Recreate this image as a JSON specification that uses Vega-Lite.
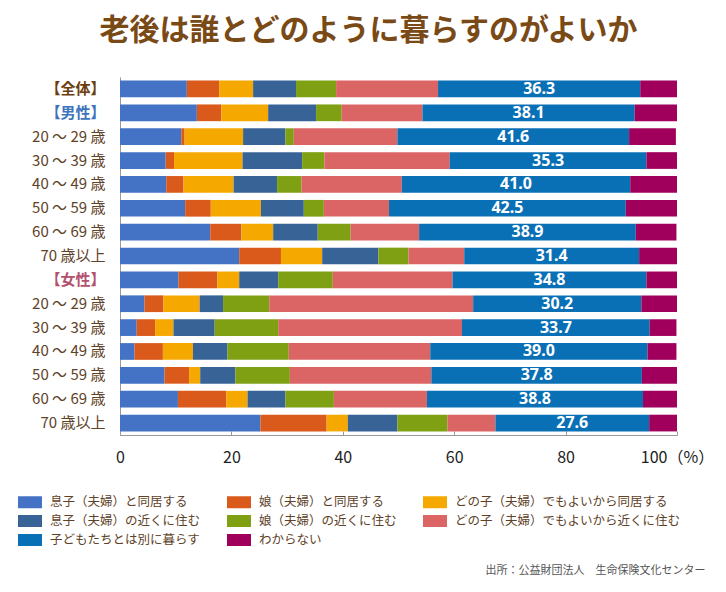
{
  "$schema": "https://vega.github.io/schema/vega-lite/v6.json",
  "width": 557,
  "height": 358,
  "autosize": {"type": "none"},
  "padding": {"left": 120, "top": 77, "right": 49, "bottom": 157},
  "background": "white",
  "config": {"view": {"stroke": null}, "font": "Noto Sans CJK JP"},
  "title": {
    "text": "老後は誰とどのように暮らすのがよいか",
    "font": "Noto Sans CJK JP",
    "fontSize": 30,
    "fontWeight": "bold",
    "color": "#7A4A16",
    "anchor": "middle",
    "dx": -30,
    "offset": 31
  },
  "datasets": {
    "rows": [
      {"row": "01|【全体】", "息子（夫婦）と同居する": 12.0, "娘（夫婦）と同居する": 5.8, "どの子（夫婦）でもよいから同居する": 6.1, "息子（夫婦）の近くに住む": 7.7, "娘（夫婦）の近くに住む": 7.2, "どの子（夫婦）でもよいから近くに住む": 18.3, "子どもたちとは別に暮らす": 36.3, "わからない": 6.6},
      {"row": "02|【男性】", "息子（夫婦）と同居する": 13.8, "娘（夫婦）と同居する": 4.4, "どの子（夫婦）でもよいから同居する": 8.4, "息子（夫婦）の近くに住む": 8.6, "娘（夫婦）の近くに住む": 4.6, "どの子（夫婦）でもよいから近くに住む": 14.5, "子どもたちとは別に暮らす": 38.1, "わからない": 7.6},
      {"row": "03|20 ～ 29 歳", "息子（夫婦）と同居する": 11.0, "娘（夫婦）と同居する": 0.6, "どの子（夫婦）でもよいから同居する": 10.5, "息子（夫婦）の近くに住む": 7.6, "娘（夫婦）の近くに住む": 1.5, "どの子（夫婦）でもよいから近くに住む": 18.6, "子どもたちとは別に暮らす": 41.6, "わからない": 8.4},
      {"row": "04|30 ～ 39 歳", "息子（夫婦）と同居する": 8.2, "娘（夫婦）と同居する": 1.5, "どの子（夫婦）でもよいから同居する": 12.3, "息子（夫婦）の近くに住む": 10.7, "娘（夫婦）の近くに住む": 4.0, "どの子（夫婦）でもよいから近くに住む": 22.5, "子どもたちとは別に暮らす": 35.3, "わからない": 5.5},
      {"row": "05|40 ～ 49 歳", "息子（夫婦）と同居する": 8.3, "娘（夫婦）と同居する": 3.1, "どの子（夫婦）でもよいから同居する": 9.0, "息子（夫婦）の近くに住む": 7.8, "娘（夫婦）の近くに住む": 4.4, "どの子（夫婦）でもよいから近くに住む": 18.0, "子どもたちとは別に暮らす": 41.0, "わからない": 8.5},
      {"row": "06|50 ～ 59 歳", "息子（夫婦）と同居する": 11.7, "娘（夫婦）と同居する": 4.6, "どの子（夫婦）でもよいから同居する": 9.0, "息子（夫婦）の近くに住む": 7.7, "娘（夫婦）の近くに住む": 3.6, "どの子（夫婦）でもよいから近くに住む": 11.7, "子どもたちとは別に暮らす": 42.5, "わからない": 9.2},
      {"row": "07|60 ～ 69 歳", "息子（夫婦）と同居する": 16.2, "娘（夫婦）と同居する": 5.6, "どの子（夫婦）でもよいから同居する": 5.7, "息子（夫婦）の近くに住む": 8.0, "娘（夫婦）の近くに住む": 5.9, "どの子（夫婦）でもよいから近くに住む": 12.3, "子どもたちとは別に暮らす": 38.9, "わからない": 7.3},
      {"row": "08|70 歳以上", "息子（夫婦）と同居する": 21.4, "娘（夫婦）と同居する": 7.5, "どの子（夫婦）でもよいから同居する": 7.4, "息子（夫婦）の近くに住む": 10.1, "娘（夫婦）の近くに住む": 5.4, "どの子（夫婦）でもよいから近くに住む": 10.0, "子どもたちとは別に暮らす": 31.4, "わからない": 6.9},
      {"row": "09|【女性】", "息子（夫婦）と同居する": 10.5, "娘（夫婦）と同居する": 7.0, "どの子（夫婦）でもよいから同居する": 3.9, "息子（夫婦）の近くに住む": 7.0, "娘（夫婦）の近くに住む": 9.8, "どの子（夫婦）でもよいから近くに住む": 21.5, "子どもたちとは別に暮らす": 34.8, "わからない": 5.6},
      {"row": "10|20 ～ 29 歳", "息子（夫婦）と同居する": 4.4, "娘（夫婦）と同居する": 3.4, "どの子（夫婦）でもよいから同居する": 6.5, "息子（夫婦）の近くに住む": 4.2, "娘（夫婦）の近くに住む": 8.3, "どの子（夫婦）でもよいから近くに住む": 36.6, "子どもたちとは別に暮らす": 30.2, "わからない": 6.4},
      {"row": "11|30 ～ 39 歳", "息子（夫婦）と同居する": 3.0, "娘（夫婦）と同居する": 3.3, "どの子（夫婦）でもよいから同居する": 3.3, "息子（夫婦）の近くに住む": 7.4, "娘（夫婦）の近くに住む": 11.4, "どの子（夫婦）でもよいから近くに住む": 33.0, "子どもたちとは別に暮らす": 33.7, "わからない": 4.8},
      {"row": "12|40 ～ 49 歳", "息子（夫婦）と同居する": 2.6, "娘（夫婦）と同居する": 5.1, "どの子（夫婦）でもよいから同居する": 5.4, "息子（夫婦）の近くに住む": 6.2, "娘（夫婦）の近くに住む": 11.0, "どの子（夫婦）でもよいから近くに住む": 25.4, "子どもたちとは別に暮らす": 39.0, "わからない": 5.2},
      {"row": "13|50 ～ 59 歳", "息子（夫婦）と同居する": 8.0, "娘（夫婦）と同居する": 4.4, "どの子（夫婦）でもよいから同居する": 2.0, "息子（夫婦）の近くに住む": 6.3, "娘（夫婦）の近くに住む": 9.8, "どの子（夫婦）でもよいから近くに住む": 25.4, "子どもたちとは別に暮らす": 37.8, "わからない": 6.3},
      {"row": "14|60 ～ 69 歳", "息子（夫婦）と同居する": 10.4, "娘（夫婦）と同居する": 8.7, "どの子（夫婦）でもよいから同居する": 3.8, "息子（夫婦）の近くに住む": 6.8, "娘（夫婦）の近くに住む": 8.7, "どの子（夫婦）でもよいから近くに住む": 16.7, "子どもたちとは別に暮らす": 38.8, "わからない": 6.1},
      {"row": "15|70 歳以上", "息子（夫婦）と同居する": 25.2, "娘（夫婦）と同居する": 11.9, "どの子（夫婦）でもよいから同居する": 3.8, "息子（夫婦）の近くに住む": 8.9, "娘（夫婦）の近くに住む": 9.0, "どの子（夫婦）でもよいから近くに住む": 8.6, "子どもたちとは別に暮らす": 27.6, "わからない": 5.2}
    ],
    "cats": [
      {"cat": "息子（夫婦）と同居する", "k": 1},
      {"cat": "娘（夫婦）と同居する", "k": 2},
      {"cat": "どの子（夫婦）でもよいから同居する", "k": 3},
      {"cat": "息子（夫婦）の近くに住む", "k": 4},
      {"cat": "娘（夫婦）の近くに住む", "k": 5},
      {"cat": "どの子（夫婦）でもよいから近くに住む", "k": 6},
      {"cat": "子どもたちとは別に暮らす", "k": 7},
      {"cat": "わからない", "k": 8}
    ]
  },
  "data": {"name": "rows"},
  "transform": [
    {"fold": ["息子（夫婦）と同居する", "娘（夫婦）と同居する", "どの子（夫婦）でもよいから同居する", "息子（夫婦）の近くに住む", "娘（夫婦）の近くに住む", "どの子（夫婦）でもよいから近くに住む", "子どもたちとは別に暮らす", "わからない"], "as": ["cat", "value"]},
    {"lookup": "cat", "from": {"data": {"name": "cats"}, "key": "cat", "fields": ["k"]}},
    {"stack": "value", "groupby": ["row"], "sort": [{"field": "k", "order": "ascending"}], "as": ["x0", "x1"]}
  ],
  "encoding": {
    "y": {
      "field": "row",
      "type": "nominal",
      "sort": "ascending",
      "scale": {"paddingInner": 0.3, "paddingOuter": 0.15},
      "axis": {
        "title": null,
        "ticks": false,
        "domainColor": "#9a9a9a",
        "labelPadding": 15,
        "labelFontSize": 15,
        "labelFont": "Noto Sans CJK JP",
        "labelExpr": "split(datum.value, '|')[1]",
        "labelColor": {"expr": "indexof(datum.value, '全体') >= 0 ? '#6B3E0E' : indexof(datum.value, '男性') >= 0 ? '#3E74BC' : indexof(datum.value, '女性') >= 0 ? '#B4506E' : '#5E4228'"},
        "labelFontWeight": {"expr": "indexof(datum.value, '【') >= 0 ? 'bold' : 'normal'"}
      }
    }
  },
  "layer": [
    {
      "mark": {"type": "bar", "clip": true},
      "encoding": {
        "x": {
          "field": "x0",
          "type": "quantitative",
          "scale": {"domain": [0, 100], "nice": false},
          "axis": {
            "values": [0, 20, 40, 60, 80, 100],
            "grid": false,
            "domainColor": "#9a9a9a",
            "tickColor": "#9a9a9a",
            "tickSize": -4,
            "labelPadding": 18,
            "labelFontSize": 16,
            "labelColor": "#222222",
            "labelFont": "Noto Sans CJK JP",
            "labelExpr": "datum.value == 100 ? '100（%）' : datum.label",
            "labelFlush": false,
            "title": "出所：公益財団法人　生命保険文化センター",
            "titleFontSize": 11,
            "titleFontWeight": "normal",
            "titleColor": "#555555",
            "titleFont": "Noto Sans CJK JP",
            "titleAnchor": "end",
            "titleAlign": "right",
            "titleX": 585,
            "titleY": 129
          }
        },
        "x2": {"field": "x1"},
        "color": {
          "field": "cat",
          "type": "nominal",
          "scale": {
            "domain": ["息子（夫婦）と同居する", "娘（夫婦）と同居する", "どの子（夫婦）でもよいから同居する", "息子（夫婦）の近くに住む", "娘（夫婦）の近くに住む", "どの子（夫婦）でもよいから近くに住む", "子どもたちとは別に暮らす", "わからない"],
            "range": ["#4472C4", "#D95A1B", "#F5A800", "#386396", "#80A014", "#DB6464", "#0A70B6", "#A0005C"]
          },
          "legend": {
            "title": null,
            "orient": "none",
            "legendX": -102,
            "legendY": 413,
            "columns": 3,
            "direction": "horizontal",
            "columnPadding": 26,
            "rowPadding": 0,
            "symbolType": "M-1,-0.5H1V0.5H-1Z",
            "symbolSize": 576,
            "symbolStrokeWidth": 0,
            "symbolOpacity": 1,
            "labelOffset": 8,
            "labelFontSize": 12.5,
            "labelColor": "#5E4228",
            "labelFont": "Noto Sans CJK JP",
            "labelLimit": 300,
            "padding": 0
          }
        }
      }
    },
    {
      "transform": [
        {"filter": "datum.k == 7"},
        {"calculate": "(datum.x0 + datum.x1) / 2", "as": "mid"}
      ],
      "mark": {"type": "text", "color": "white", "fontWeight": "bold", "fontSize": 16, "font": "Noto Sans", "baseline": "middle"},
      "encoding": {
        "x": {"field": "mid", "type": "quantitative"},
        "text": {"field": "value", "type": "quantitative", "format": ".1f"}
      }
    }
  ]
}
